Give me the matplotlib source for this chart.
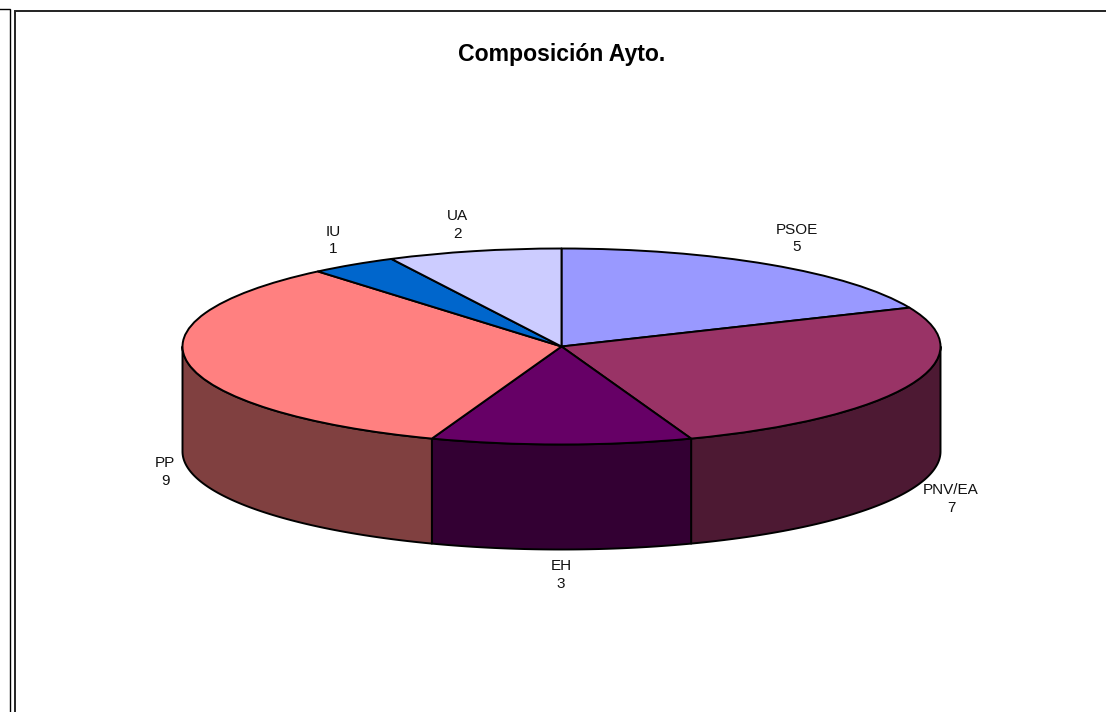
import numpy as np
import matplotlib
matplotlib.use("Agg")
import matplotlib.pyplot as plt
from matplotlib.patches import Polygon

# ---- data ----
parties = ["PSOE", "PNV/EA", "EH", "PP", "IU", "UA"]
seats = [5, 7, 3, 9, 1, 2]
top_colors = ["#9999FF", "#993366", "#660066", "#FF8080", "#0066CC", "#CCCCFF"]
side_colors = ["#4C4C80", "#4D1933", "#330033", "#804040", "#003366", "#666680"]
label_px = [(797, 238.5), (951, 499), (561, 575), (165, 472), (333, 240.5), (457, 225)]
title = "Composición Ayto."

W, H = 1106, 712
CX, CY, RX, RY, DEPTH = 561.5, 346.5, 379, 98, 105
plt.rcParams["font.family"] = ["Liberation Sans", "DejaVu Sans"]

fig = plt.figure(figsize=(W / 100, H / 100), dpi=100, facecolor="white")

# page axes in pixel coordinates: frames and texts
page = fig.add_axes([0, 0, 1, 1], zorder=3)
page.set_xlim(0, W)
page.set_ylim(H, 0)
page.axis("off")
page.patch.set_alpha(0)

# pie axes: unit circle maps on to the top ellipse
pie_ax = fig.add_axes([(CX - RX) / W, 1 - (CY + RY) / H, 2 * RX / W, 2 * RY / H], zorder=2)
pie_ax.pie(seats, startangle=90, counterclock=False, colors=top_colors,
           wedgeprops=dict(edgecolor="black", linewidth=1.4, joinstyle="round"))
pie_ax.set_aspect("auto")
pie_ax.set_xlim(-1, 1)
pie_ax.set_ylim(-1, 1)
for p in pie_ax.patches:
    p.set_clip_on(False)
pie_ax.axis("off")

# walls: the visible front half of each slice, extruded down
drop = 2 * DEPTH / (2 * RY)
edges = np.cumsum([0] + seats) / sum(seats) * 2 * np.pi
for i, col in enumerate(side_colors):
    a0, a1 = max(edges[i], np.pi / 2), min(edges[i + 1], 3 * np.pi / 2)
    if a1 <= a0:
        continue
    t = np.linspace(a0, a1, 120)
    x, y = np.sin(t), np.cos(t)
    pts = np.r_[np.c_[x, y], np.c_[x, y - drop][::-1]]
    pie_ax.add_patch(Polygon(pts, closed=True, facecolor=col, edgecolor="black",
                             linewidth=1.4, zorder=0, clip_on=False, joinstyle="round"))

# frames
page.plot([0, 10.0, 10.0], [9.3, 9.3, H], color="black", lw=1.0, solid_joinstyle="miter")
page.plot([15.0, 15.0, W], [H, 10.8, 10.8], color="#222222", lw=1.4, solid_joinstyle="miter")

# texts
page.text(561.5, 54.5, title, ha="center", va="center", fontsize=16.6, fontweight="bold", color="black")
for name, n, (x, y) in zip(parties, seats, label_px):
    page.text(x, y, f"{name}\n{n}", ha="center", va="center", fontsize=11,
              color="#111111", linespacing=1.32)

fig.savefig("out.png", dpi=100, facecolor="white")
